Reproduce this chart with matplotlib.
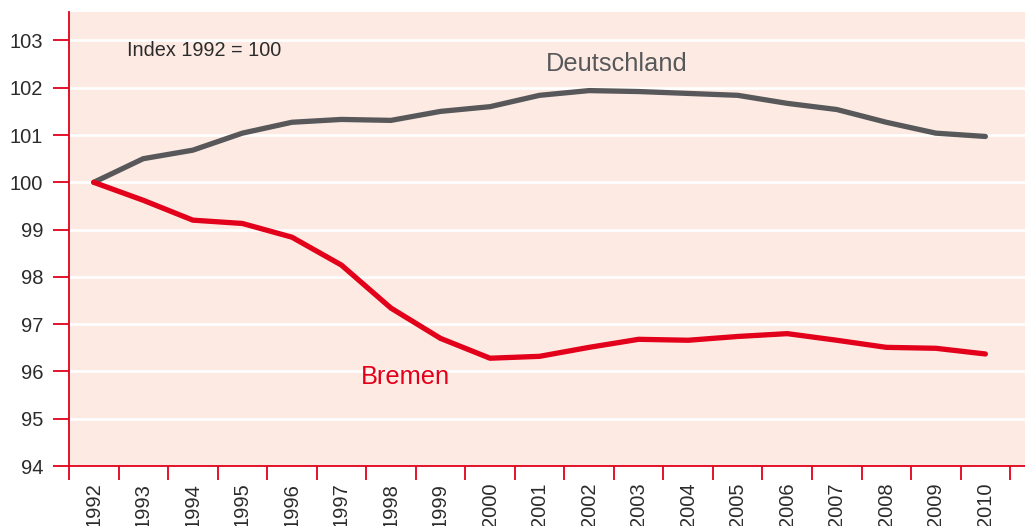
import numpy as np
import matplotlib.pyplot as plt

plt.rcParams['font.family'] = ['Liberation Sans', 'DejaVu Sans']

# Bevoelkerungsentwicklung, Index 1992 = 100
jahre = [str(j) for j in range(1992, 2011)]
deutschland = [100.0, 100.5, 100.68, 101.04, 101.27, 101.33, 101.31, 101.5, 101.6,
               101.84, 101.94, 101.92, 101.88, 101.84, 101.67, 101.54, 101.27,
               101.04, 100.97]
bremen = [100.0, 99.62, 99.2, 99.13, 98.84, 98.25, 97.34, 96.7, 96.28, 96.32,
          96.51, 96.68, 96.66, 96.74, 96.8, 96.66, 96.51, 96.49, 96.37]

rot = '#e2001a'
grau = '#58585a'
hintergrund = '#fdebe3'
textfarbe = '#2b2b2b'

fig = plt.figure(figsize=(10.25, 5.26), dpi=100)
ax = fig.add_axes([0.0673, 0.114, 0.9327, 0.863])
ax.set_facecolor(hintergrund)

x = np.arange(len(jahre))
ax.plot(x, deutschland, color=grau, lw=3.8, solid_capstyle='round', zorder=3)
ax.plot(x, bremen, color=rot, lw=3.8, solid_capstyle='round', zorder=3)

ax.set_xlim(-0.5, 18.8)
ax.set_ylim(94, 103.6)

# horizontal white grid
ax.set_yticks(range(94, 104))
for y in range(95, 104):
    ax.axhline(y, color='white', lw=2, zorder=1)

# ticks sit on the category boundaries, labels in the middle
ax.set_xticks(np.arange(-0.5, 19, 1))
ax.set_xticklabels([])
ax.set_xticks(x, minor=True)
ax.set_xticklabels(jahre, minor=True, rotation=90, fontsize=14.5, color=textfarbe)
ax.tick_params(axis='x', which='minor', length=0, pad=12)
ax.tick_params(axis='x', which='major', length=10, width=1.3, color=rot)
ax.tick_params(axis='y', length=11.5, width=1.3, color=rot, labelsize=14.5,
               labelcolor=textfarbe, pad=7)

for s in ['top', 'right']:
    ax.spines[s].set_visible(False)
for s in ['left', 'bottom']:
    ax.spines[s].set_color(rot)
    ax.spines[s].set_linewidth(1.3)

ax.text(0.67, 102.79, 'Index 1992 = 100', fontsize=14.3, color=textfarbe, va='center')
ax.text(10.55, 102.51, 'Deutschland', fontsize=18.3, color=grau, ha='center', va='center')
ax.text(6.3, 95.88, 'Bremen', fontsize=18.3, color=rot, ha='center', va='center')

fig.savefig('out.png', dpi=100, facecolor='white')
